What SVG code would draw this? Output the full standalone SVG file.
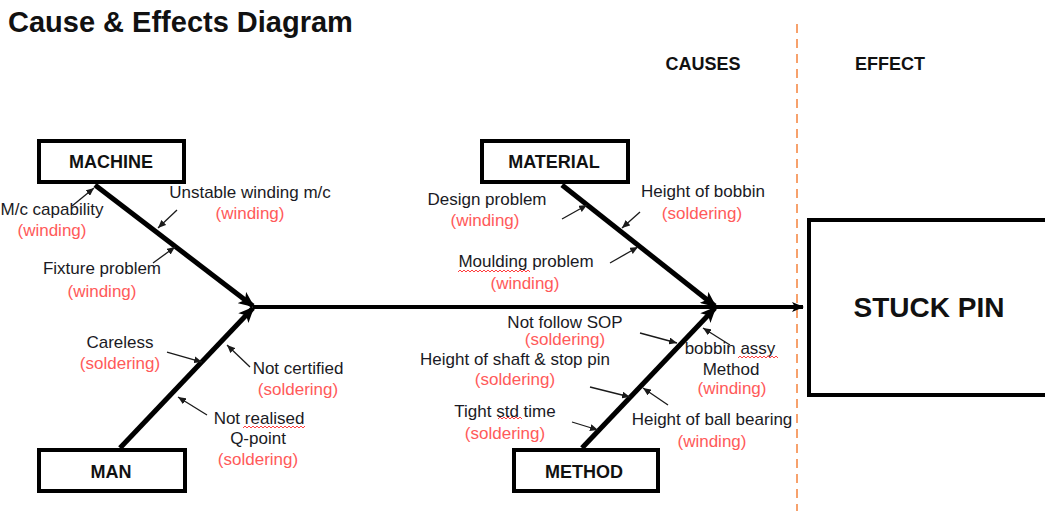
<svg xmlns="http://www.w3.org/2000/svg" width="1045" height="511" viewBox="0 0 1045 511">
<defs>
<style>
text{font-family:"Liberation Sans",Arial,sans-serif;}
.t{font-size:17px;fill:#1a1a24;text-anchor:middle;}
.r{font-size:17px;fill:#ff5a5a;text-anchor:middle;}
.b{font-size:18px;font-weight:bold;fill:#111;text-anchor:middle;}
.box{fill:#fff;stroke:#000;stroke-width:4;}
.bone{stroke:#000;stroke-width:5;fill:none;marker-end:url(#big);}
.ca{stroke:#1a1a1a;stroke-width:1.3;fill:none;marker-end:url(#small);}
.sq{stroke:#ff4040;stroke-width:1;fill:none;}
</style>
<marker id="big" markerUnits="userSpaceOnUse" viewBox="0 0 16 14" refX="14" refY="7" markerWidth="16" markerHeight="14" orient="auto">
<path d="M0,0 L16,7 L0,14 L4,7 Z" fill="#000"/>
</marker>
<marker id="sp" markerUnits="userSpaceOnUse" viewBox="0 0 12 10" refX="11" refY="5" markerWidth="12" markerHeight="10" orient="auto">
<path d="M0,0 L12,5 L0,10 L3,5 Z" fill="#000"/>
</marker>
<marker id="small" markerUnits="userSpaceOnUse" viewBox="0 0 8 7" refX="8" refY="3.5" markerWidth="8" markerHeight="7" orient="auto">
<path d="M0,0 L8,3.5 L0,7 Z" fill="#1a1a1a"/>
</marker>
</defs>
<rect width="1045" height="511" fill="#fff"/>
<text x="8" y="32" style="font-size:29px;font-weight:bold;fill:#111">Cause &amp; Effects Diagram</text>
<text class="b" x="703" y="70">CAUSES</text>
<text class="b" x="890" y="70">EFFECT</text>
<line x1="797" y1="24" x2="797" y2="511" stroke="#f5823c" stroke-width="1.5" stroke-dasharray="9,6"/>

<g id="connectors">
<line x1="253" y1="307" x2="803" y2="307" stroke="#000" stroke-width="4" marker-end="url(#sp)"/>
<line class="bone" x1="95" y1="185" x2="253" y2="306"/>
<line class="bone" x1="120" y1="448" x2="253" y2="308"/>
<line class="bone" x1="562" y1="185" x2="715" y2="306"/>
<line class="bone" x1="582" y1="448" x2="715" y2="308"/>
<line class="ca" x1="72" y1="206" x2="94" y2="188"/>
<line class="ca" x1="177" y1="210" x2="158" y2="228"/>
<line class="ca" x1="153" y1="263" x2="175" y2="247"/>
<line class="ca" x1="167" y1="352" x2="202" y2="362"/>
<line class="ca" x1="250" y1="367" x2="227" y2="345"/>
<line class="ca" x1="207" y1="415" x2="178" y2="397"/>
<line class="ca" x1="562" y1="219" x2="587" y2="205"/>
<line class="ca" x1="640" y1="212" x2="622" y2="228"/>
<line class="ca" x1="610" y1="263" x2="638" y2="247"/>
<line class="ca" x1="640" y1="333" x2="677" y2="343"/>
<line class="ca" x1="590" y1="387" x2="630" y2="397"/>
<line class="ca" x1="572" y1="422" x2="598" y2="430"/>
<line class="ca" x1="730" y1="345" x2="703" y2="328"/>
<line class="ca" x1="668" y1="405" x2="643" y2="388"/>
</g>

<g id="machine">
<rect class="box" x="39" y="141" width="145" height="41"/>
<text class="b" x="111" y="168">MACHINE</text>
</g>
<g id="man">
<rect class="box" x="39" y="450" width="146" height="41"/>
<text class="b" x="111" y="478">MAN</text>
</g>
<g id="material">
<rect class="box" x="482" y="141" width="146" height="41"/>
<text class="b" x="554" y="168">MATERIAL</text>
</g>
<g id="method">
<rect class="box" x="514" y="450" width="144" height="41"/>
<text class="b" x="584" y="478">METHOD</text>
</g>
<g id="stuck-pin">
<rect class="box" x="809" y="220" width="260" height="175"/>
<text x="929" y="317" style="font-size:28px;font-weight:bold;fill:#111;text-anchor:middle">STUCK PIN</text>
</g>

<g id="machine-causes">
<text class="t" x="52" y="215">M/c capability</text>
<text class="r" x="52" y="236">(winding)</text>
<text class="t" x="250" y="198">Unstable winding m/c</text>
<text class="r" x="250" y="219">(winding)</text>
<text class="t" x="102" y="274">Fixture problem</text>
<text class="r" x="102" y="297">(winding)</text>
</g>
<g id="man-causes">
<text class="t" x="120" y="348">Careless</text>
<text class="r" x="120" y="369">(soldering)</text>
<text class="t" x="298" y="374">Not certified</text>
<text class="r" x="298" y="395">(soldering)</text>
<text class="t" x="259" y="424">Not realised</text>
<text class="t" x="258" y="444">Q-point</text>
<text class="r" x="258" y="465">(soldering)</text>
</g>
<g id="material-causes">
<text class="t" x="487" y="205">Design problem</text>
<text class="r" x="485" y="226">(winding)</text>
<text class="t" x="703" y="197">Height of bobbin</text>
<text class="r" x="702" y="219">(soldering)</text>
<text class="t" x="526" y="267">Moulding problem</text>
<text class="r" x="525" y="289">(winding)</text>
</g>
<g id="method-causes">
<text class="t" x="565" y="328">Not follow SOP</text>
<text class="r" x="565" y="345">(soldering)</text>
<text class="t" x="515" y="365">Height of shaft &amp; stop pin</text>
<text class="r" x="515" y="385">(soldering)</text>
<text class="t" x="505" y="417">Tight std time</text>
<text class="r" x="505" y="439">(soldering)</text>
<text class="t" x="730" y="354">bobbin assy</text>
<text class="t" x="731" y="375">Method</text>
<text class="r" x="732" y="394">(winding)</text>
<text class="t" x="712" y="425">Height of ball bearing</text>
<text class="r" x="712" y="447">(winding)</text>
</g>
<g id="spellcheck">
<path class="sq" d="M243,428 l2,-2 l2,2 l2,-2 l2,2 l2,-2 l2,2 l2,-2 l2,2 l2,-2 l2,2 l2,-2 l2,2 l2,-2 l2,2 l2,-2 l2,2 l2,-2 l2,2 l2,-2 l2,2 l2,-2 l2,2 l2,-2 l2,2 l2,-2 l2,2 l2,-2 l2,2 l2,-2 l2,2 l2,-2"/>
<path class="sq" d="M458,272 l2,-2 l2,2 l2,-2 l2,2 l2,-2 l2,2 l2,-2 l2,2 l2,-2 l2,2 l2,-2 l2,2 l2,-2 l2,2 l2,-2 l2,2 l2,-2 l2,2 l2,-2 l2,2 l2,-2 l2,2 l2,-2 l2,2 l2,-2 l2,2 l2,-2 l2,2 l2,-2 l2,2 l2,-2 l2,2 l2,-2 l2,2 l2,-2 l2,2"/>
<path class="sq" d="M498,419 l2,-2 l2,2 l2,-2 l2,2 l2,-2 l2,2 l2,-2 l2,2 l2,-2 l2,2 l2,-2 l2,2"/>
<path class="sq" d="M738,358 l2,-2 l2,2 l2,-2 l2,2 l2,-2 l2,2 l2,-2 l2,2 l2,-2 l2,2 l2,-2 l2,2 l2,-2 l2,2 l2,-2 l2,2 l2,-2 l2,2 l2,-2 l2,2"/>
</g>
</svg>
